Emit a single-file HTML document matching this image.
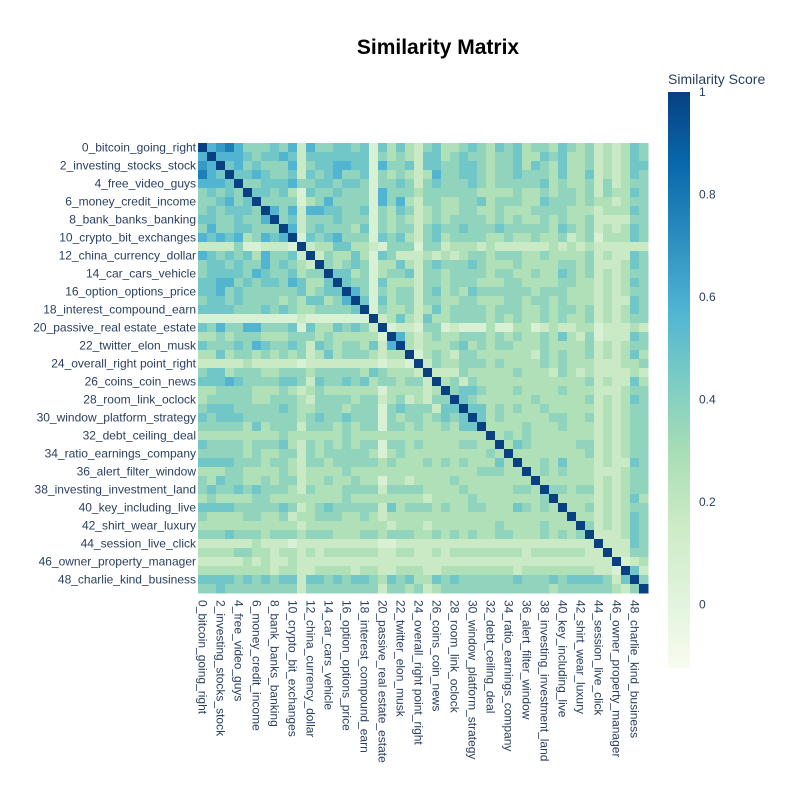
<!DOCTYPE html>
<html><head><meta charset="utf-8"><style>
body{margin:0;background:#fff;font-family:"Liberation Sans",sans-serif}
svg text{fill:#2a3f5f;font-family:"Liberation Sans",sans-serif}
</style></head><body>
<svg id="chart" width="800" height="800" xmlns="http://www.w3.org/2000/svg">
<rect width="800" height="800" fill="#fff"/>
<text x="438" y="54" text-anchor="middle" font-size="21" font-weight="bold" style="fill:#000">Similarity Matrix</text>
<g id="cells"></g>
<g id="ylab"></g>
<g id="xlab"></g>
<defs><linearGradient id="cbg" x1="0" y1="1" x2="0" y2="0"></linearGradient></defs>
<text x="668" y="84" font-size="14">Similarity Score</text>
<rect x="668" y="92" width="22" height="576" fill="url(#cbg)"/>
<g id="cbticks"></g>
</svg>
<script>
const labels=["0_bitcoin_going_right","2_investing_stocks_stock","4_free_video_guys","6_money_credit_income","8_bank_banks_banking","10_crypto_bit_exchanges","12_china_currency_dollar","14_car_cars_vehicle","16_option_options_price","18_interest_compound_earn","20_passive_real estate_estate","22_twitter_elon_musk","24_overall_right point_right","26_coins_coin_news","28_room_link_oclock","30_window_platform_strategy","32_debt_ceiling_deal","34_ratio_earnings_company","36_alert_filter_window","38_investing_investment_land","40_key_including_live","42_shirt_wear_luxury","44_session_live_click","46_owner_property_manager","48_charlie_kind_business"];
const lowerRows=["","6","76","865","6665","45454","445645","4545554","55445446","464455444","6565634656","22224112221","654545364452","4554544645432","45555465445344","556645455465335","5564544444453455","45545444434355346","555544454543344445","1111111111121111111","54644664445153354542","334344433344434333331","5444546544542543443526","33534434343423534443233","222223222221222222221221","4553444334443444443543332","55565444455425445453443442","334444333432343333331333323","3444443344432444434423423244","45554444454334443444145444255","545554444443454454441434434545","4444435344424443434414434334355","33333333343333334333333333333333","544443444532434343441443433334433","4444434334424344444313433333333343","55554443443244344444343334343433353","333443333432333343333333333333344433","4354433434423343343313323333433333333","45445454443243334444244443333433333443","343333443333333343333333323333433333334","5555444445423454444425344434334433354343","43333443342334443343233333333333333333333","333333333332333333333233323333333433334333","4445444344434443334434443343434334433343434","22222232221222222222112222222222222222222222","333344332332323333332233223233333333233333322","2222232322322222222222222222222222222222222222","33333333233223333233223332233333333233333333221","555545454552554545543545335454444445444545555425","4454444444424444444424434234444444444443444444324"];
const cbTicks=[0,0.2,0.4,0.6,0.8,1];
const zmin=-0.124,zmax=1,N=50,x0=198,y0=143,cs=9;
const scale=[[0,[247,252,240]],[0.125,[224,243,219]],[0.25,[204,235,197]],[0.375,[168,221,181]],[0.5,[123,204,196]],[0.625,[78,179,211]],[0.75,[43,140,190]],[0.875,[8,104,172]],[1,[8,64,129]]];
function color(v){let t=(v-zmin)/(zmax-zmin);t=Math.max(0,Math.min(1,t));for(let i=1;i<scale.length;i++){if(t<=scale[i][0]){const a=scale[i-1],b=scale[i],f=(t-a[0])/(b[0]-a[0]);return`rgb(${a[1].map((c,k)=>Math.round(c+(b[1][k]-c)*f)).join(",")})`;}}return"rgb(8,64,129)";}
function val(i,j){if(i===j)return 1;const r=Math.max(i,j),c=Math.min(i,j);const ch=lowerRows[r].charAt(c);return (ch?+ch:3)/10-0.03;}
function xs(j){return x0+j*cs;} function ys(i){return y0+i*cs;}
const NS="http://www.w3.org/2000/svg";
const cells=document.getElementById("cells");
for(let i=0;i<N;i++)for(let j=0;j<N;j++){const r=document.createElementNS(NS,"rect");


r.setAttribute("x",xs(j));r.setAttribute("y",ys(i));r.setAttribute("width",cs+0.5);r.setAttribute("height",cs+0.5);r.setAttribute("fill",color(val(i,j)));cells.appendChild(r);}
const yl=document.getElementById("ylab"),xl=document.getElementById("xlab");
labels.forEach((l,k)=>{const idx=k*2;
const t=document.createElementNS(NS,"text");


t.setAttribute("x",196);t.setAttribute("y",ys(idx)+cs/2+4);t.setAttribute("text-anchor","end");t.setAttribute("font-size","12");t.textContent=l;yl.appendChild(t);
const u=document.createElementNS(NS,"text");


const cx=xs(idx)+cs/2-4;u.setAttribute("transform",`translate(${cx},600) rotate(90)`);u.setAttribute("font-size","12");u.textContent=l;xl.appendChild(u);});
const g=document.getElementById("cbg");
scale.forEach(s=>{const st=document.createElementNS(NS,"stop");st.setAttribute("offset",s[0]);st.setAttribute("stop-color",`rgb(${s[1].join(",")})`);g.appendChild(st);});
const cb=document.getElementById("cbticks");
cbTicks.forEach(v=>{const y=668-(v-zmin)/(zmax-zmin)*576;
const t=document.createElementNS(NS,"text");


t.setAttribute("x",699);t.setAttribute("y",y+4);t.setAttribute("font-size","12");t.textContent=v;cb.appendChild(t);});
</script>
</body></html>
